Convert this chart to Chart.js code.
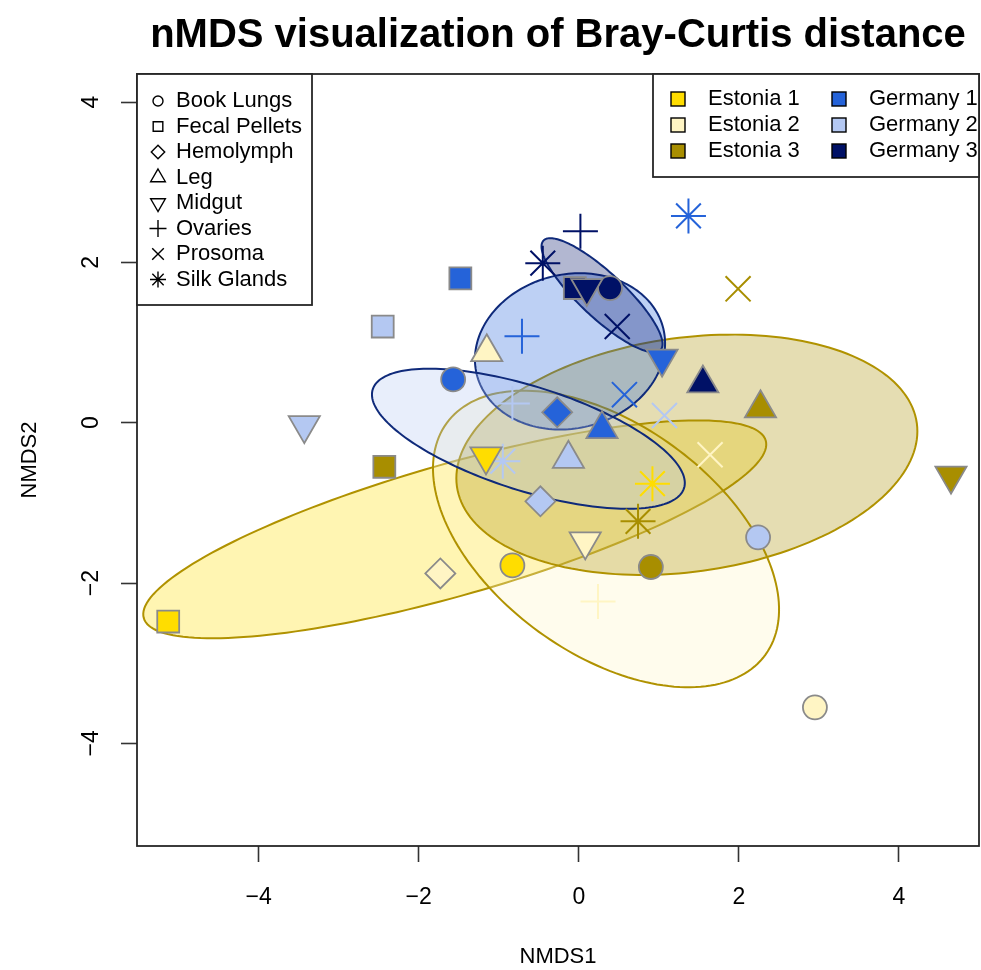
<!DOCTYPE html>
<html>
<head>
<meta charset="utf-8">
<script src="https://cdn.jsdelivr.net/npm/chart.js@4.4.1/dist/chart.umd.min.js"></script>
<style>
  html, body { margin: 0; padding: 0; background: #fff; }
</style>
</head>
<body>
<canvas id="grafica" width="981" height="970"></canvas>
<script>
// tejidos, en el orden de la leyenda
var tejidos = ['Book Lungs', 'Fecal Pellets', 'Hemolymph', 'Leg', 'Midgut', 'Ovaries', 'Prosoma', 'Silk Glands'];
var grupos = ['Estonia 1', 'Estonia 2', 'Estonia 3', 'Germany 1', 'Germany 2', 'Germany 3'];

// NMDS1 / NMDS2 por grupo, un valor por tejido (null = sin muestra)
var estonia1X = [-0.83, -5.13, null, null, -1.16, null, null, 0.92];
var estonia1Y = [-1.78, -2.48, null, null, -0.42, null, null, -0.76];
var estonia2X = [2.95, null, -1.73, -1.15, 0.08, 0.24, 1.64, null];
var estonia2Y = [-3.55, null, -1.88, 0.88, -1.48, -2.23, -0.40, null];
var estonia3X = [0.90, -2.43, null, 2.27, 4.65, null, 1.99, 0.74];
var estonia3Y = [-1.80, -0.55, null, 0.18, -0.66, null, 1.67, -1.23];
var germany1X = [-1.57, -1.48, -0.27, 0.29, 1.04, -0.71, 0.57, 1.37];
var germany1Y = [0.54, 1.80, 0.13, -0.08, 0.80, 1.08, 0.35, 2.58];
var germany2X = [2.24, -2.45, -0.48, -0.13, -3.43, -0.83, 1.07, -0.95];
var germany2Y = [-1.43, 1.20, -0.98, -0.45, -0.03, 0.24, 0.09, -0.48];
var germany3X = [0.39, -0.05, null, 1.55, 0.10, 0.02, 0.48, -0.45];
var germany3Y = [1.68, 1.68, null, 0.49, 1.68, 2.39, 1.20, 1.99];

// elipses por grupo: centro, semiejes y angulo (grados)
var elipseCx = [-1.55, 0.34, 1.35, -0.11, -0.63, 0.29];
var elipseCy = [-1.33, -1.45, -0.40, 0.89, -0.20, 1.59];
var elipseA = [4.04, 2.46, 2.90, 1.20, 2.04, 1.00];
var elipseB = [0.82, 1.43, 1.46, 0.96, 0.65, 0.28];
var elipseAngulo = [15.9, -35.9, 7.8, 13.7, -17.6, -43];

// ejes
var xMin = -5.52, xMax = 5.0;
var yMin = -5.28, yMax = 4.35;
var ejeTicks = [-4, -2, 0, 2, 4];
var ejeEtiquetas = ['\u22124', '\u22122', '0', '2', '4'];

var colores = ['#FFDD00', '#FFF5C4', '#A88E00', '#2563D9', '#B4C8F2', '#001166'];
var fuente = "'Liberation Sans', Arial, Helvetica, sans-serif";

var valoresX = [estonia1X, estonia2X, estonia3X, germany1X, germany2X, germany3X];
var valoresY = [estonia1Y, estonia2Y, estonia3Y, germany1Y, germany2Y, germany3Y];

// forma de cada tejido
var estilos = {
    'Book Lungs': { s: 'circle', r: 12, rot: 0, fill: true },
    'Fecal Pellets': { s: 'rect', r: 15.5, rot: 0, fill: true },
    'Hemolymph': { s: 'rectRot', r: 15, rot: 0, fill: true },
    'Leg': { s: 'triangle', r: 18, rot: 0, fill: true },
    'Midgut': { s: 'triangle', r: 18, rot: 180, fill: true },
    'Ovaries': { s: 'cross', r: 17.5, rot: 0, fill: false },
    'Prosoma': { s: 'crossRot', r: 17.7, rot: 0, fill: false },
    'Silk Glands': { s: 'star', r: 17.5, rot: 0, fill: false }
};
var estilosLeyenda = {
    'Book Lungs': { s: 'circle', r: 5, rot: 0 },
    'Fecal Pellets': { s: 'rect', r: 6.8, rot: 0 },
    'Hemolymph': { s: 'rectRot', r: 6.7, rot: 0 },
    'Leg': { s: 'triangle', r: 8.5, rot: 0 },
    'Midgut': { s: 'triangle', r: 8.5, rot: 180 },
    'Ovaries': { s: 'cross', r: 8.5, rot: 0 },
    'Prosoma': { s: 'crossRot', r: 8.2, rot: 0 },
    'Silk Glands': { s: 'star', r: 8, rot: 0 }
};

function rgba(hex, a) {
    var n = parseInt(hex.slice(1), 16);
    return 'rgba(' + (n >> 16) + ',' + ((n >> 8) & 255) + ',' + (n & 255) + ',' + a + ')';
}

var datasets = grupos.map(function(grupo, i) {
    var puntos = [];
    tejidos.forEach(function(tejido, j) {
        if (valoresX[i][j] !== null) {
            puntos.push({ x: valoresX[i][j], y: valoresY[i][j], tejido: tejido });
        }
    });
    var est = puntos.map(function(p) { return estilos[p.tejido]; });
    return {
        label: grupo,
        data: puntos,
        pointStyle: est.map(function(e) { return e.s; }),
        pointRadius: est.map(function(e) { return e.r; }),
        pointRotation: est.map(function(e) { return e.rot; }),
        pointBackgroundColor: est.map(function(e) { return e.fill ? colores[i] : 'rgba(0,0,0,0)'; }),
        pointBorderColor: est.map(function(e) { return e.fill ? '#8a8a8a' : colores[i]; }),
        pointBorderWidth: est.map(function(e) { return e.fill ? 1.8 : 2; }),
        showLine: false
    };
});

var elipses = {
    id: 'elipses',
    beforeDatasetsDraw: function(chart) {
        var ctx = chart.ctx, xs = chart.scales.x, ys = chart.scales.y, area = chart.chartArea;
        ctx.save();
        ctx.beginPath();
        ctx.rect(area.left, area.top, area.right - area.left, area.bottom - area.top);
        ctx.clip();
        grupos.forEach(function(g, i) {
            var th = elipseAngulo[i] * Math.PI / 180;
            ctx.beginPath();
            for (var k = 0; k <= 180; k++) {
                var t = k / 180 * 2 * Math.PI;
                var u = elipseA[i] * Math.cos(t), v = elipseB[i] * Math.sin(t);
                var px = xs.getPixelForValue(elipseCx[i] + u * Math.cos(th) - v * Math.sin(th));
                var py = ys.getPixelForValue(elipseCy[i] + u * Math.sin(th) + v * Math.cos(th));
                if (k) ctx.lineTo(px, py); else ctx.moveTo(px, py);
            }
            ctx.closePath();
            ctx.fillStyle = rgba(colores[i], 0.3);
            ctx.fill();
            ctx.strokeStyle = i < 3 ? '#B09200' : '#0F2A7A';
            ctx.lineWidth = 2;
            ctx.stroke();
        });
        ctx.restore();
    }
};

var cajaYLeyendas = {
    id: 'cajaYLeyendas',
    afterDraw: function(chart) {
        var ctx = chart.ctx, a = chart.chartArea;
        var dibujar = Chart.helpers.drawPoint;
        ctx.save();
        // caja del grafico
        ctx.strokeStyle = '#262626';
        ctx.lineWidth = 1.8;
        ctx.strokeRect(a.left, a.top, a.right - a.left, a.bottom - a.top);

        // leyenda de tejidos
        ctx.fillStyle = '#fff';
        ctx.fillRect(a.left, a.top, 175, 231);
        ctx.strokeRect(a.left, a.top, 175, 231);
        ctx.font = '22px ' + fuente;
        ctx.textBaseline = 'middle';
        ctx.textAlign = 'left';
        tejidos.forEach(function(t, j) {
            var y = a.top + 27 + j * 25.5;
            var e = estilosLeyenda[t];
            ctx.fillStyle = 'rgba(0,0,0,0)';
            ctx.strokeStyle = '#000';
            ctx.lineWidth = 1.4;
            dibujar(ctx, { pointStyle: e.s, radius: e.r, rotation: e.rot, borderWidth: 1.4 }, a.left + 21, y);
            ctx.fillStyle = '#000';
            ctx.fillText(t, a.left + 39, y);
        });

        // leyenda de grupos
        var lx = a.right - 326;
        ctx.fillStyle = '#fff';
        ctx.fillRect(lx, a.top, 326, 103);
        ctx.strokeStyle = '#262626';
        ctx.lineWidth = 1.8;
        ctx.strokeRect(lx, a.top, 326, 103);
        grupos.forEach(function(g, i) {
            var col = Math.floor(i / 3), fila = i % 3;
            var x = lx + 25 + col * 161, y = a.top + 25 + fila * 26;
            ctx.fillStyle = colores[i];
            ctx.fillRect(x - 7, y - 7, 14, 14);
            ctx.strokeStyle = '#000';
            ctx.lineWidth = 1.4;
            ctx.strokeRect(x - 7, y - 7, 14, 14);
            ctx.fillStyle = '#000';
            ctx.fillText(g, x + 30, y);
        });
        ctx.restore();
    }
};

var ejeComun = function() {
    return {
        type: 'linear',
        afterBuildTicks: function(s) { s.ticks = ejeTicks.map(function(v) { return { value: v }; }); },
        border: { display: false },
        grid: { drawOnChartArea: false, drawTicks: true, tickLength: 16, tickColor: '#333', tickWidth: 1.6 },
        ticks: {
            color: '#000',
            autoSkip: false,
            font: { family: fuente, size: 23 },
            callback: function(v, i) { return ejeEtiquetas[i]; }
        },
        title: { display: true, color: '#000', font: { family: fuente, size: 22 } }
    };
};

var ejeX = ejeComun();
ejeX.min = xMin; ejeX.max = xMax;
ejeX.afterFit = function(s) { s.height = 124; };
ejeX.ticks.padding = 22;
ejeX.ticks.maxRotation = 0;
ejeX.title.text = 'NMDS1';
ejeX.title.padding = { top: 0, bottom: 0 };

var ejeY = ejeComun();
ejeY.min = yMin; ejeY.max = yMax;
ejeY.afterFit = function(s) { s.width = 137; };
ejeY.ticks.padding = 16;
ejeY.ticks.minRotation = 90;
ejeY.ticks.maxRotation = 90;
ejeY.ticks.crossAlign = 'center';
ejeY.title.text = 'NMDS2';
ejeY.title.padding = { top: 17, bottom: 0 };

var grafica = new Chart(document.getElementById('grafica').getContext('2d'), {
    type: 'scatter',
    data: { datasets: datasets },
    options: {
        responsive: false,
        animation: false,
        events: [],
        layout: { autoPadding: false, padding: { left: 0, right: 2, top: 0, bottom: 0 } },
        plugins: {
            legend: { display: false },
            tooltip: { enabled: false },
            title: {
                display: true,
                fullSize: false,
                text: 'nMDS visualization of Bray-Curtis distance',
                color: '#000',
                font: { family: fuente, size: 40, weight: 'bold' },
                padding: { top: 12, bottom: 14 }
            }
        },
        scales: { x: ejeX, y: ejeY }
    },
    plugins: [elipses, cajaYLeyendas]
});
</script>
</body>
</html>
